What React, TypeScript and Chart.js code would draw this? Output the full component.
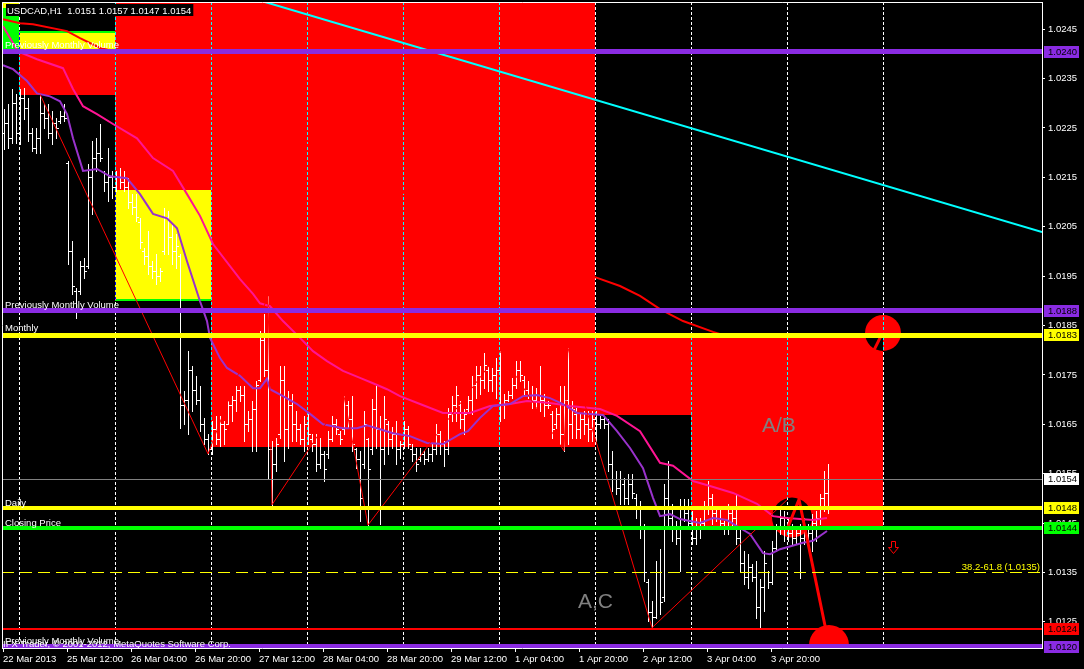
import React, { useEffect, useRef } from 'react';
import { Chart, registerables } from 'chart.js';

Chart.register(...registerables);

// ---------- H1 price bars (USDCAD) ----------
const barHigh = [
  1.02288, 1.02298, 1.02329, 1.02318, 1.02329, 1.02331, 1.02310, 1.02250, 1.02250, 1.02318,
  1.02298, 1.02298, 1.02284, 1.02270, 1.02284, 1.02298, 1.02183, 1.02021, 1.01926, 1.01980,
  1.01987, 1.02177, 1.02223, 1.02229, 1.02258, 1.02163, 1.02209, 1.02163, 1.02163, 1.02169,
  1.02163, 1.02148, 1.02116, 1.02116, 1.02067, 1.02007, 1.02041, 1.01980, 1.01995, 1.01966,
  1.02088, 1.02082, 1.02055, 1.02035, 1.01995, 1.01717, 1.01798, 1.01768, 1.01748, 1.01727,
  1.01663, 1.01630, 1.01657, 1.01667, 1.01667, 1.01657, 1.01697, 1.01707, 1.01727, 1.01727,
  1.01727, 1.01677, 1.01697, 1.01738, 1.01839, 1.01873, 1.01910, 1.01616, 1.01622, 1.01768,
  1.01768, 1.01717, 1.01711, 1.01677, 1.01650, 1.01667, 1.01671, 1.01630, 1.01630, 1.01622,
  1.01596, 1.01636, 1.01667, 1.01661, 1.01636, 1.01707, 1.01697, 1.01707, 1.01602, 1.01596,
  1.01677, 1.01622, 1.01701, 1.01727, 1.01667, 1.01707, 1.01657, 1.01644, 1.01657, 1.01616,
  1.01657, 1.01646, 1.01610, 1.01602, 1.01602, 1.01596, 1.01602, 1.01610, 1.01650, 1.01636,
  1.01616, 1.01683, 1.01707, 1.01727, 1.01697, 1.01681, 1.01707, 1.01748, 1.01768, 1.01768,
  1.01794, 1.01768, 1.01764, 1.01784, 1.01798, 1.01711, 1.01717, 1.01744, 1.01778, 1.01778,
  1.01748, 1.01738, 1.01727, 1.01723, 1.01768, 1.01711, 1.01697, 1.01677, 1.01683, 1.01727,
  1.01727, 1.01804, 1.01697, 1.01683, 1.01671, 1.01677, 1.01677, 1.01677, 1.01677, 1.01667,
  1.01667, 1.01661, 1.01596, 1.01555, 1.01555, 1.01541, 1.01549, 1.01549, 1.01509, 1.01495,
  1.01448, 1.01337, 1.01292, 1.01373, 1.01398, 1.01529, 1.01576, 1.01489, 1.01454, 1.01499,
  1.01499, 1.01499, 1.01474, 1.01460, 1.01460, 1.01495, 1.01535, 1.01509, 1.01485, 1.01480,
  1.01454, 1.01489, 1.01480, 1.01509, 1.01440, 1.01393, 1.01387, 1.01367, 1.01373, 1.01337,
  1.01393, 1.01353, 1.01414, 1.01448, 1.01480, 1.01474, 1.01460, 1.01448, 1.01440, 1.01448,
  1.01460, 1.01448, 1.01468, 1.01474, 1.01509, 1.01555, 1.01570,
];
const barLow = [
  1.02207, 1.02209, 1.02219, 1.02219, 1.02217, 1.02268, 1.02223, 1.02203, 1.02199, 1.02199,
  1.02250, 1.02229, 1.02217, 1.02229, 1.02260, 1.02264, 1.01974, 1.01914, 1.01865, 1.01914,
  1.01946, 1.01966, 1.02076, 1.02163, 1.02183, 1.02122, 1.02102, 1.02108, 1.02122, 1.02128,
  1.02122, 1.02088, 1.02076, 1.02061, 1.02007, 1.01974, 1.01954, 1.01946, 1.01934, 1.01940,
  1.01995, 1.01995, 1.01974, 1.01966, 1.01642, 1.01650, 1.01630, 1.01677, 1.01691, 1.01636,
  1.01610, 1.01590, 1.01590, 1.01610, 1.01606, 1.01610, 1.01650, 1.01657, 1.01677, 1.01697,
  1.01616, 1.01636, 1.01596, 1.01596, 1.01738, 1.01748, 1.01539, 1.01487, 1.01555, 1.01622,
  1.01576, 1.01602, 1.01616, 1.01616, 1.01610, 1.01596, 1.01610, 1.01596, 1.01555, 1.01561,
  1.01535, 1.01582, 1.01616, 1.01630, 1.01610, 1.01630, 1.01642, 1.01596, 1.01561, 1.01454,
  1.01561, 1.01446, 1.01590, 1.01602, 1.01448, 1.01570, 1.01590, 1.01602, 1.01570, 1.01582,
  1.01602, 1.01602, 1.01576, 1.01555, 1.01576, 1.01570, 1.01576, 1.01576, 1.01590, 1.01590,
  1.01566, 1.01590, 1.01657, 1.01657, 1.01642, 1.01630, 1.01673, 1.01671, 1.01703, 1.01711,
  1.01723, 1.01717, 1.01717, 1.01703, 1.01657, 1.01663, 1.01697, 1.01703, 1.01723, 1.01738,
  1.01711, 1.01703, 1.01683, 1.01683, 1.01677, 1.01667, 1.01683, 1.01622, 1.01642, 1.01610,
  1.01596, 1.01610, 1.01622, 1.01622, 1.01622, 1.01630, 1.01616, 1.01616, 1.01616, 1.01642,
  1.01642, 1.01555, 1.01515, 1.01509, 1.01489, 1.01489, 1.01489, 1.01501, 1.01460, 1.01420,
  1.01333, 1.01252, 1.01238, 1.01258, 1.01266, 1.01292, 1.01440, 1.01414, 1.01408, 1.01353,
  1.01454, 1.01440, 1.01408, 1.01408, 1.01420, 1.01440, 1.01468, 1.01448, 1.01454, 1.01440,
  1.01428, 1.01428, 1.01440, 1.01408, 1.01353, 1.01327, 1.01319, 1.01333, 1.01258, 1.01238,
  1.01272, 1.01319, 1.01327, 1.01393, 1.01428, 1.01414, 1.01414, 1.01408, 1.01408, 1.01339,
  1.01408, 1.01408, 1.01393, 1.01414, 1.01448, 1.01474, 1.01470,
];
const barOpen = [
  1.02240, 1.02260, 1.02230, 1.02300, 1.02240, 1.02310, 1.02290, 1.02240, 1.02210, 1.02230,
  1.02280, 1.02270, 1.02240, 1.02260, 1.02265, 1.02275, 1.02180, 1.02000, 1.01920, 1.01920,
  1.01970, 1.01970, 1.02150, 1.02190, 1.02200, 1.02160, 1.02140, 1.02150, 1.02130, 1.02150,
  1.02140, 1.02130, 1.02100, 1.02090, 1.02060, 1.02000, 1.01990, 1.01970, 1.01960, 1.01950,
  1.02000, 1.02070, 1.02030, 1.02000, 1.01990, 1.01690, 1.01700, 1.01760, 1.01720, 1.01700,
  1.01650, 1.01620, 1.01600, 1.01640, 1.01620, 1.01650, 1.01650, 1.01690, 1.01700, 1.01720,
  1.01710, 1.01650, 1.01660, 1.01680, 1.01740, 1.01820, 1.01760, 1.01600, 1.01570, 1.01630,
  1.01740, 1.01640, 1.01690, 1.01650, 1.01640, 1.01620, 1.01650, 1.01620, 1.01610, 1.01570,
  1.01590, 1.01590, 1.01620, 1.01650, 1.01630, 1.01640, 1.01690, 1.01660, 1.01600, 1.01580,
  1.01570, 1.01620, 1.01600, 1.01680, 1.01640, 1.01600, 1.01650, 1.01620, 1.01630, 1.01600,
  1.01610, 1.01640, 1.01600, 1.01590, 1.01580, 1.01590, 1.01580, 1.01590, 1.01600, 1.01630,
  1.01610, 1.01600, 1.01670, 1.01690, 1.01690, 1.01660, 1.01680, 1.01700, 1.01730, 1.01750,
  1.01740, 1.01760, 1.01740, 1.01750, 1.01760, 1.01690, 1.01700, 1.01710, 1.01730, 1.01760,
  1.01740, 1.01720, 1.01710, 1.01700, 1.01710, 1.01700, 1.01690, 1.01670, 1.01650, 1.01670,
  1.01630, 1.01700, 1.01650, 1.01670, 1.01640, 1.01660, 1.01650, 1.01640, 1.01660, 1.01650,
  1.01660, 1.01650, 1.01570, 1.01540, 1.01520, 1.01530, 1.01500, 1.01530, 1.01500, 1.01480,
  1.01440, 1.01330, 1.01270, 1.01260, 1.01350, 1.01300, 1.01500, 1.01460, 1.01440, 1.01420,
  1.01480, 1.01470, 1.01450, 1.01420, 1.01440, 1.01450, 1.01480, 1.01500, 1.01470, 1.01460,
  1.01450, 1.01440, 1.01470, 1.01460, 1.01420, 1.01370, 1.01340, 1.01360, 1.01340, 1.01280,
  1.01320, 1.01350, 1.01330, 1.01400, 1.01440, 1.01460, 1.01440, 1.01430, 1.01420, 1.01430,
  1.01420, 1.01440, 1.01430, 1.01450, 1.01460, 1.01500, 1.01510,
];
const barClose = [
  1.02260, 1.02230, 1.02300, 1.02240, 1.02310, 1.02290, 1.02240, 1.02210, 1.02230, 1.02280,
  1.02270, 1.02240, 1.02260, 1.02250, 1.02275, 1.02270, 1.02000, 1.01930, 1.01880, 1.01970,
  1.01960, 1.02150, 1.02190, 1.02200, 1.02190, 1.02140, 1.02150, 1.02130, 1.02150, 1.02140,
  1.02130, 1.02100, 1.02090, 1.02070, 1.02020, 1.01990, 1.01970, 1.01960, 1.01950, 1.01960,
  1.02070, 1.02030, 1.02000, 1.02010, 1.01690, 1.01700, 1.01760, 1.01720, 1.01700, 1.01650,
  1.01620, 1.01600, 1.01640, 1.01620, 1.01650, 1.01640, 1.01690, 1.01700, 1.01720, 1.01710,
  1.01650, 1.01660, 1.01680, 1.01730, 1.01820, 1.01760, 1.01600, 1.01570, 1.01610, 1.01740,
  1.01640, 1.01690, 1.01650, 1.01640, 1.01620, 1.01650, 1.01630, 1.01610, 1.01570, 1.01590,
  1.01560, 1.01620, 1.01650, 1.01640, 1.01620, 1.01690, 1.01660, 1.01610, 1.01580, 1.01500,
  1.01650, 1.01560, 1.01680, 1.01640, 1.01600, 1.01660, 1.01620, 1.01630, 1.01600, 1.01610,
  1.01640, 1.01610, 1.01590, 1.01570, 1.01590, 1.01580, 1.01590, 1.01600, 1.01630, 1.01610,
  1.01600, 1.01670, 1.01690, 1.01710, 1.01660, 1.01670, 1.01700, 1.01730, 1.01750, 1.01740,
  1.01770, 1.01740, 1.01750, 1.01760, 1.01690, 1.01700, 1.01710, 1.01730, 1.01760, 1.01750,
  1.01720, 1.01710, 1.01700, 1.01710, 1.01700, 1.01690, 1.01690, 1.01640, 1.01670, 1.01630,
  1.01700, 1.01650, 1.01680, 1.01640, 1.01660, 1.01650, 1.01640, 1.01660, 1.01650, 1.01660,
  1.01650, 1.01570, 1.01540, 1.01520, 1.01540, 1.01500, 1.01530, 1.01510, 1.01480, 1.01440,
  1.01350, 1.01270, 1.01260, 1.01350, 1.01290, 1.01500, 1.01460, 1.01440, 1.01420, 1.01480,
  1.01470, 1.01450, 1.01420, 1.01440, 1.01450, 1.01480, 1.01500, 1.01470, 1.01460, 1.01450,
  1.01440, 1.01470, 1.01460, 1.01420, 1.01370, 1.01340, 1.01360, 1.01340, 1.01280, 1.01320,
  1.01370, 1.01330, 1.01400, 1.01440, 1.01460, 1.01440, 1.01430, 1.01420, 1.01430, 1.01420,
  1.01440, 1.01430, 1.01450, 1.01460, 1.01500, 1.01510, 1.01540,
];

// ---------- axes ----------
const xTickPositions = [-0.25, 15.75, 31.75, 47.75, 63.75, 79.75, 95.75, 111.75, 127.75, 143.75, 159.75, 175.75, 191.75];
const xTickLabels = ['22 Mar 2013', '25 Mar 12:00', '26 Mar 04:00', '26 Mar 20:00', '27 Mar 12:00', '28 Mar 04:00', '28 Mar 20:00', '29 Mar 12:00', '1 Apr 04:00', '1 Apr 20:00', '2 Apr 12:00', '3 Apr 04:00', '3 Apr 20:00'];
const yTickValues = [1.0125, 1.0135, 1.0145, 1.0155, 1.0165, 1.0175, 1.0185, 1.0195, 1.0205, 1.0215, 1.0225, 1.0235, 1.0245];
const daySeparators = [3.85, 27.85, 51.85, 75.85, 99.85, 123.85, 147.85, 171.85, 195.85, 219.85];
const xMin = -0.5;
const xMax = 259.5;
const yMin = 1.01197;
const yMax = 1.02505;

// ---------- moving averages ----------
const redMaX = [-0.25, 4, 7.25, 15.75, 19, 24, 27.75, 39, 51.5, 74, 99, 124, 147.75, 154, 159, 164, 169.75, 177.25, 189, 205.75];
const redMaY = [1.02470, 1.02462, 1.02460, 1.02446, 1.02432, 1.02412, 1.02405, 1.02365, 1.02314, 1.02223, 1.02122, 1.02031, 1.01948, 1.01930, 1.01910, 1.01883, 1.01859, 1.01837, 1.01808, 1.01778];
const pinkMaX = [-0.25, 3.5, 8.25, 14.75, 17.25, 19.75, 23.25, 27.25, 33.25, 37.25, 42.25, 45.75, 49, 52.25, 59, 62.25, 64, 66.5, 69.75, 74, 77.25, 80.75, 84.75, 89, 92.25, 95.75, 99, 104, 109.75, 116.5, 121.5, 126.5, 130.75, 136.5, 141.5, 149, 153.25, 159, 164, 167.25, 172.25, 176.5, 182.25, 188.25, 192.25, 195.75, 202.25, 205.75];
const pinkMaY = [1.02456, 1.02405, 1.02389, 1.02371, 1.02329, 1.02294, 1.02278, 1.02258, 1.02229, 1.02189, 1.02163, 1.02116, 1.02072, 1.02015, 1.01944, 1.01914, 1.01895, 1.01889, 1.01859, 1.01825, 1.01798, 1.01778, 1.01758, 1.01744, 1.01733, 1.01721, 1.01707, 1.01691, 1.01673, 1.01673, 1.01687, 1.01691, 1.01697, 1.01693, 1.01687, 1.01681, 1.01667, 1.01636, 1.01572, 1.01566, 1.01535, 1.01525, 1.01511, 1.01489, 1.01464, 1.01460, 1.01456, 1.01460];
const purpleMaX = [-0.25, 2.25, 5.75, 8.25, 11.5, 14, 15.75, 17.25, 19.75, 23.25, 26.5, 30.75, 34, 37.25, 40.75, 43.25, 45.75, 49, 50.75, 51.5, 54, 55.75, 59, 62.25, 64, 65.75, 66.5, 69.75, 73.25, 76.5, 79.75, 84.75, 88.25, 90.75, 94, 97.25, 101.5, 105.75, 109.75, 114, 116, 119, 122.25, 126.5, 129.75, 133.25, 136.5, 139.75, 143.25, 149.75, 153.25, 156.5, 159.75, 162.25, 164, 166.5, 169, 174, 177.25, 180.75, 184, 186.5, 189.75, 191.5, 194, 199.75, 202.25, 205.75];
const purpleMaY = [1.02377, 1.02369, 1.02345, 1.02320, 1.02314, 1.02304, 1.02278, 1.02229, 1.02163, 1.02167, 1.02152, 1.02148, 1.02116, 1.02076, 1.02067, 1.02047, 1.01980, 1.01899, 1.01859, 1.01825, 1.01784, 1.01764, 1.01748, 1.01723, 1.01723, 1.01742, 1.01721, 1.01707, 1.01691, 1.01671, 1.01650, 1.01642, 1.01642, 1.01648, 1.01640, 1.01632, 1.01626, 1.01612, 1.01610, 1.01630, 1.01636, 1.01663, 1.01687, 1.01691, 1.01707, 1.01709, 1.01703, 1.01691, 1.01673, 1.01669, 1.01636, 1.01602, 1.01561, 1.01501, 1.01464, 1.01468, 1.01458, 1.01450, 1.01460, 1.01456, 1.01440, 1.01428, 1.01389, 1.01387, 1.01397, 1.01410, 1.01414, 1.01434];

// ---------- ZigZag, pattern lines, trend line ----------
const zigX = [9, 51, 66, 67, 85, 91, 124, 140, 141, 162, 195.75];
const zigY = [1.02318, 1.01590, 1.01910, 1.01487, 1.01707, 1.01446, 1.01798, 1.01596, 1.01804, 1.01238, 1.01497];
const patAX = [196, 198.75, 206.25];
const patAY = [1.01442, 1.01498, 1.01203];
const patBX = [217.5, 219.75];
const patBY = [1.01800, 1.01837];
const trendX = [65.25, 259.5];
const trendY = [1.02505, 1.02039];

// ---------- supply / demand zones ----------
const zoneStart = [-0.5, -0.5, 3.85, 3.85, 27.85, 27.85, 51.85, 147.85, 171.85];
const zoneEnd = [3.85, 3.85, 27.85, 27.85, 51.85, 51.85, 147.85, 171.85, 219.85];
const zoneTop = [1.02505, 1.02493, 1.02444, 1.02410, 1.02505, 1.02124, 1.02505, 1.0183, 1.0183];
const zoneBottom = [1.02493, 1.02410, 1.02410, 1.02316, 1.02124, 1.01901, 1.01604, 1.01669, 1.01440];
const zoneColors = ['#ffff00', '#00ff00', '#ffff00', '#ff0000', '#ff0000', '#ffff00', '#ff0000', '#ff0000', '#ff0000'];
const edgeStart = [3.85, 27.85];
const edgeEnd = [27.85, 51.85];
const edgePrice = [1.02444, 1.01901];

// ---------- horizontal levels ----------
const levelPrices = [1.02404, 1.0188, 1.0183, 1.0148, 1.0144, 1.01236, 1.0120];
const levelColors = ['#8a2be2', '#8a2be2', '#ffff00', '#ffff00', '#00ff00', '#ff0000', '#8a2be2'];
const levelWidths = [5, 5, 5, 4, 4, 2, 5];
const bidPrice = 1.0154;
const fibPrice = 1.0135;

// ---------- circles / arrow ----------
const circleX = [197, 219.75, 206.25];
const circleY = [1.01461, 1.01835, 1.01203];
const circleR = [20, 18, 20];
const arrowX = 222.25;
const arrowY = 1.01401;

// ---------- text objects ----------
const noteText = ['Previously Monthly Volume', 'Previously Monthly Volume', 'Monthly', 'Daily', 'Closing Price', 'Previously Monthly Volume', 'A/B', 'A,C', '38.2-61.8 (1.0135)'];
const noteX = [0.25, 0.25, 0.25, 0.25, 0.25, 0.25, 189.5, 143.5, 259];
const noteY = [1.02412, 1.01885, 1.01839, 1.01484, 1.01444, 1.01205, 1.01634, 1.01278, 1.01355];
const noteColor = ['#fff', '#fff', '#fff', '#fff', '#fff', '#fff', '#808080', '#808080', '#ffff00'];
const noteSize = [9.5, 9.5, 9.5, 9.5, 9.5, 9.5, 21, 21, 9.5];
const noteAlign = ['left', 'left', 'left', 'left', 'left', 'left', 'left', 'left', 'right'];
const headerText = 'USDCAD,H1  1.0151 1.0157 1.0147 1.0154';
const footerText = 'IFX Trader, \u00a9 2001-2012, MetaQuotes Software Corp.';

const FONT = '"Liberation Sans", Arial, sans-serif';

const pts = (xs: number[], ys: number[]) => xs.map((v, k) => ({ x: v, y: ys[k] }));

const bgPlugin = {
  id: 'bgBlack',
  beforeDraw(chart: any) {
    const ctx = chart.ctx;
    ctx.save();
    ctx.fillStyle = '#000';
    ctx.fillRect(0, 0, chart.width, chart.height);
    ctx.restore();
  },
};

const backPlugin = {
  id: 'zonesAndBars',
  beforeDatasetsDraw(chart: any) {
    const { ctx, chartArea: a, scales } = chart;
    const x = scales.x;
    const y = scales.y;
    ctx.save();
    ctx.beginPath();
    ctx.rect(a.left, a.top, a.right - a.left, a.bottom - a.top);
    ctx.clip();
    // zones
    for (let k = 0; k < zoneStart.length; k++) {
      const x0 = Math.round(x.getPixelForValue(zoneStart[k]));
      const x1 = Math.round(x.getPixelForValue(zoneEnd[k]));
      const y0 = Math.round(y.getPixelForValue(zoneTop[k]));
      const y1 = Math.round(y.getPixelForValue(zoneBottom[k]));
      ctx.fillStyle = zoneColors[k];
      ctx.fillRect(x0, y0, x1 - x0, y1 - y0);
    }
    ctx.fillStyle = '#00ff00';
    for (let k = 0; k < edgeStart.length; k++) {
      const x0 = Math.round(x.getPixelForValue(edgeStart[k]));
      const x1 = Math.round(x.getPixelForValue(edgeEnd[k]));
      const yy = Math.round(y.getPixelForValue(edgePrice[k]));
      ctx.fillRect(x0, yy - 1, x1 - x0, 2);
    }
    // day separators (xor-like)
    ctx.globalCompositeOperation = 'difference';
    ctx.strokeStyle = '#ffffff';
    ctx.lineWidth = 1;
    ctx.setLineDash([3, 2]);
    ctx.beginPath();
    daySeparators.forEach((v) => {
      const px = Math.round(x.getPixelForValue(v)) + 0.5;
      ctx.moveTo(px, a.top);
      ctx.lineTo(px, a.bottom);
    });
    ctx.stroke();
    ctx.setLineDash([]);
    // circles (xor-like)
    ctx.fillStyle = '#ff0000';
    for (let k = 0; k < circleX.length; k++) {
      ctx.beginPath();
      ctx.arc(x.getPixelForValue(circleX[k]), y.getPixelForValue(circleY[k]), circleR[k], 0, Math.PI * 2);
      ctx.fill();
    }
    ctx.globalCompositeOperation = 'source-over';
    // OHLC bars
    ctx.strokeStyle = '#ffffff';
    ctx.lineWidth = 1;
    ctx.beginPath();
    for (let i = 0; i < barHigh.length; i++) {
      const cx = Math.round(x.getPixelForValue(i)) + 0.5;
      const yh = Math.round(y.getPixelForValue(barHigh[i]));
      const yl = Math.round(y.getPixelForValue(barLow[i]));
      const yo = Math.round(y.getPixelForValue(barOpen[i])) + 0.5;
      const yc = Math.round(y.getPixelForValue(barClose[i])) + 0.5;
      ctx.moveTo(cx, yh);
      ctx.lineTo(cx, yl + 1);
      ctx.moveTo(cx - 2.5, yo);
      ctx.lineTo(cx, yo);
      ctx.moveTo(cx, yc);
      ctx.lineTo(cx + 2.5, yc);
    }
    ctx.stroke();
    ctx.restore();
  },
};

const levelsPlugin = {
  id: 'levels',
  afterDatasetsDraw(chart: any) {
    const { ctx, chartArea: a, scales } = chart;
    const x = scales.x;
    const y = scales.y;
    ctx.save();
    ctx.beginPath();
    ctx.rect(a.left, a.top, a.right - a.left, a.bottom - a.top);
    ctx.clip();
    // bid line
    const by = Math.round(y.getPixelForValue(bidPrice)) + 0.5;
    ctx.strokeStyle = '#808080';
    ctx.lineWidth = 1;
    ctx.beginPath();
    ctx.moveTo(a.left, by);
    ctx.lineTo(a.right, by);
    ctx.stroke();
    // fib dashed line
    const fy = Math.round(y.getPixelForValue(fibPrice)) + 0.5;
    ctx.strokeStyle = '#ffff00';
    ctx.setLineDash([12, 6]);
    ctx.beginPath();
    ctx.moveTo(a.left, fy);
    ctx.lineTo(a.right, fy);
    ctx.stroke();
    ctx.setLineDash([]);
    // horizontal levels
    for (let k = 0; k < levelPrices.length; k++) {
      const yy = y.getPixelForValue(levelPrices[k]);
      const w = levelWidths[k];
      ctx.fillStyle = levelColors[k];
      ctx.fillRect(a.left, Math.round(yy - w / 2), a.right - a.left, w);
    }
    // down arrow (outline)
    const ax = Math.round(x.getPixelForValue(arrowX)) + 0.5;
    const ay = Math.round(y.getPixelForValue(arrowY)) + 0.5;
    ctx.strokeStyle = '#ff0000';
    ctx.beginPath();
    ctx.moveTo(ax - 2, ay - 6);
    ctx.lineTo(ax + 2, ay - 6);
    ctx.lineTo(ax + 2, ay);
    ctx.lineTo(ax + 5, ay);
    ctx.lineTo(ax, ay + 6);
    ctx.lineTo(ax - 5, ay);
    ctx.lineTo(ax - 2, ay);
    ctx.closePath();
    ctx.stroke();
    ctx.restore();
  },
};

const overlayPlugin = {
  id: 'overlay',
  afterDraw(chart: any) {
    const { ctx, chartArea: a, scales } = chart;
    const x = scales.x;
    const y = scales.y;
    ctx.save();
    // frame top/left
    ctx.strokeStyle = '#ffffff';
    ctx.lineWidth = 1;
    ctx.beginPath();
    ctx.moveTo(a.left + 0.5, a.bottom + 1);
    ctx.lineTo(a.left + 0.5, a.top + 0.5);
    ctx.lineTo(a.right + 1, a.top + 0.5);
    ctx.stroke();

    // text objects
    ctx.save();
    ctx.beginPath();
    ctx.rect(a.left, a.top, a.right - a.left, a.bottom - a.top);
    ctx.clip();
    ctx.textBaseline = 'alphabetic';
    for (let k = 0; k < noteText.length; k++) {
      ctx.font = `${noteSize[k]}px ${FONT}`;
      ctx.fillStyle = noteColor[k];
      ctx.textAlign = noteAlign[k] as CanvasTextAlign;
      ctx.fillText(noteText[k], x.getPixelForValue(noteX[k]), y.getPixelForValue(noteY[k]));
    }
    // header
    ctx.font = `9.5px ${FONT}`;
    ctx.textAlign = 'left';
    const hw = ctx.measureText(headerText).width;
    ctx.fillStyle = '#000';
    ctx.fillRect(a.left + 4, a.top + 2, hw + 3, 12);
    ctx.fillStyle = '#fff';
    ctx.fillText(headerText, a.left + 5, a.top + 12);
    // footer
    ctx.fillStyle = '#ffffff';
    ctx.fillText(footerText, a.left + 1, a.bottom - 1);
    ctx.restore();

    // price boxes on the axis
    ctx.font = `9.5px ${FONT}`;
    ctx.textAlign = 'left';
    ctx.textBaseline = 'middle';
    const boxes = levelPrices.map((p, k) => ({ p, c: levelColors[k] }));
    boxes.push({ p: bidPrice, c: '#ffffff' });
    boxes.forEach((b) => {
      const yy = Math.round(y.getPixelForValue(b.p));
      ctx.fillStyle = b.c;
      ctx.fillRect(a.right + 2, yy - 6, 35, 12);
      ctx.fillStyle = '#000';
      ctx.fillText(b.p.toFixed(4), a.right + 6, yy + 0.5);
    });
    ctx.restore();
  },
};

export default function App() {
  const ref = useRef<HTMLCanvasElement | null>(null);
  useEffect(() => {
    document.body.style.margin = '0';
    document.body.style.background = '#000';
    const canvas = ref.current;
    if (!canvas) return;
    const tickFont = { family: FONT, size: 9.5 };
    const chart = new Chart(canvas, {
      type: 'line',
      data: {
        datasets: [
          { label: 'MA slow', data: pts(redMaX, redMaY), borderColor: '#ff0000', borderWidth: 2, order: 6, clip: 0 },
          { label: 'MA mid', data: pts(pinkMaX, pinkMaY), borderColor: '#ff1493', borderWidth: 2, order: 5, clip: 0 },
          { label: 'MA fast', data: pts(purpleMaX, purpleMaY), borderColor: '#9932cc', borderWidth: 2, order: 4, clip: 0 },
          { label: 'Trend', data: pts(trendX, trendY), borderColor: '#00ffff', borderWidth: 2, order: 3, clip: 0 },
          { label: 'ZigZag', data: pts(zigX, zigY), borderColor: '#ff0000', borderWidth: 1, order: 2, clip: 0 },
          { label: 'Pattern A', data: pts(patAX, patAY), borderColor: '#ff0000', borderWidth: 3, order: 1, clip: 0 },
          { label: 'Pattern B', data: pts(patBX, patBY), borderColor: '#ff0000', borderWidth: 3, order: 1, clip: 0 },
        ],
      },
      options: {
        responsive: false,
        animation: false,
        devicePixelRatio: 1,
        events: [],
        layout: { padding: { left: 2, top: 2, right: 0, bottom: 0 } },
        elements: { point: { radius: 0 }, line: { tension: 0, borderCapStyle: 'butt' } },
        plugins: { legend: { display: false }, tooltip: { enabled: false } },
        scales: {
          x: {
            type: 'linear',
            min: xMin,
            max: xMax,
            afterBuildTicks: (s: any) => {
              s.ticks = xTickPositions.map((v) => ({ value: v }));
            },
            afterFit: (s: any) => {
              s.height = 21;
              s.paddingLeft = 0;
              s.paddingRight = 0;
            },
            ticks: {
              autoSkip: false,
              maxRotation: 0,
              minRotation: 0,
              align: 'start',
              color: '#ffffff',
              font: tickFont,
              padding: 2,
              callback: (_v: any, i: number) => xTickLabels[i],
            },
            grid: { drawOnChartArea: false, color: '#ffffff', tickLength: 4 },
            border: { color: '#ffffff' },
          },
          y: {
            type: 'linear',
            position: 'right',
            min: yMin,
            max: yMax,
            afterBuildTicks: (s: any) => {
              s.ticks = yTickValues.map((v) => ({ value: v }));
            },
            afterFit: (s: any) => {
              s.width = 42;
              s.paddingTop = 0;
              s.paddingBottom = 0;
            },
            ticks: {
              autoSkip: false,
              color: '#ffffff',
              font: tickFont,
              padding: 3,
              callback: (v: any) => Number(v).toFixed(4),
            },
            grid: { drawOnChartArea: false, color: '#ffffff', tickLength: 3 },
            border: { color: '#ffffff' },
          },
        },
      } as any,
      plugins: [bgPlugin, backPlugin, levelsPlugin, overlayPlugin],
    } as any);
    return () => chart.destroy();
  }, []);
  return (
    <div style={{ width: 1084, height: 669, background: '#000' }}>
      <canvas ref={ref} width={1084} height={669} style={{ display: 'block' }} />
    </div>
  );
}
